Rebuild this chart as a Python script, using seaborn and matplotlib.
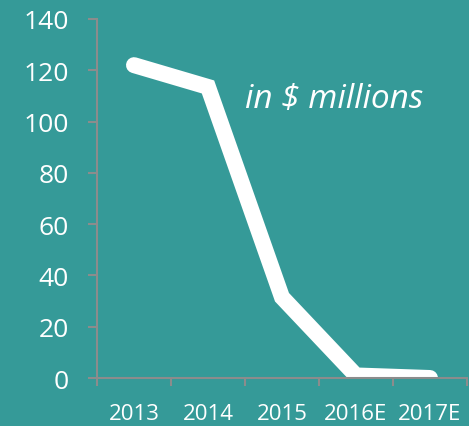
import matplotlib
matplotlib.use("Agg")
import matplotlib.pyplot as plt
import seaborn as sns
import numpy as np
from matplotlib.ticker import FixedLocator

years = ["2013", "2014", "2015", "2016E", "2017E"]
values = [122, 113.5, 31.5, 1, 0]
yticks = [0, 20, 40, 60, 80, 100, 120, 140]

sns.set_theme(style="white")
plt.rcParams['font.family'] = ['Open Sans', 'DejaVu Sans']

bg = "#359a98"
grey = "#8c8c8c"

fig = plt.figure(figsize=(4.69, 4.27), dpi=100, facecolor=bg)
ax = fig.add_axes([0.2068, 0.1124, 0.7889, 0.8408])
ax.set_facecolor(bg)

pos = np.arange(len(years))
sns.lineplot(x=pos, y=values, ax=ax, color="white", linewidth=11.5,
             solid_capstyle="round", solid_joinstyle="miter")

ax.set_xlim(-0.5, len(years) - 0.5)
ax.set_ylim(0, 140)

ax.xaxis.set_major_locator(FixedLocator(np.arange(-0.5, len(years), 1.0)))
ax.xaxis.set_minor_locator(FixedLocator(pos))
ax.set_xticklabels([])
ax.set_xticklabels(years, minor=True)
ax.tick_params(axis="x", which="major", length=6, width=1.5, color=grey, bottom=True)
ax.tick_params(axis="x", which="minor", length=0, pad=18, labelsize=16, labelcolor="white", bottom=True)

ax.set_yticks(yticks)
ax.tick_params(axis="y", which="major", length=6.5, width=1.5, color=grey, left=True,
               pad=14, labelsize=19, labelcolor="white")

for s in ["top", "right"]:
    ax.spines[s].set_visible(False)
for s in ["left", "bottom"]:
    ax.spines[s].set_color(grey)
    ax.spines[s].set_linewidth(1.5)

ax.set_xlabel("")
ax.set_ylabel("")

ax.text(2.70, 105.7, "in $ millions", color="white", fontsize=24, style="italic",
        ha="center", va="baseline")

fig.savefig("out.png", dpi=100, facecolor=bg)
